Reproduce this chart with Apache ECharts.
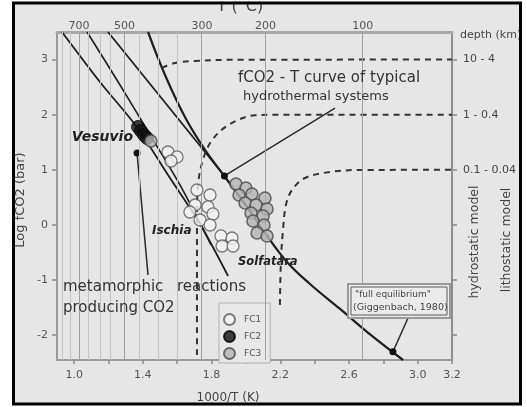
<!DOCTYPE html>
<html><head><meta charset="utf-8">
<script src="https://cdn.jsdelivr.net/npm/echarts@6/dist/echarts.min.js"></script>
<style>html,body{margin:0;padding:0;background:#fff}#c{width:527px;height:407px}</style>
</head><body><div id="c"></div>
<script>
// ---- axes / ticks ----
const xTickValues = [1.0,1.2,1.4,1.6,1.8,2.0,2.2,2.4,2.6,2.8,3.0,3.2];
const xTickLabels = [1.0,1.4,1.8,2.2,2.6,3.0,3.2];
const yTickLabels = [-2,-1,0,1,2,3];
const topTempLabels = [700,500,300,200,100];      // T (°C) on top axis
const gridTempsMajor = [700,500,300,200,100];
const gridTempsMinor = [800,750,650,600,550,450,400,350];

// ---- metamorphic reaction lines (1000/T, log fCO2) ----
const reactionA = [[0.929,3.5],[1.150,2.593],[1.360,1.795],[1.558,0.852],[1.733,0.017],[1.896,-0.926]];
const reactionB = [[1.075,3.5],[1.267,2.539],[1.442,1.632],[1.616,0.725],[1.797,-0.364]];
const reactionC = [[1.197,3.5],[1.861,0.942]];
// ---- fCO2-T curve of hydrothermal systems ("full equilibrium", Giggenbach 1980) ----
const fullEquilibrium = [[1.430,3.5],[1.529,2.72],[1.645,1.958],[1.762,1.360],[1.878,0.870],[1.995,0.380],
  [2.111,-0.146],[2.239,-0.672],[2.373,-1.071],[2.548,-1.524],[2.734,-2.014],[2.915,-2.45]];
// ---- depth curves (dashed) ----
const depth10 = [[1.51,2.85],[1.587,2.938],[1.704,2.974],[1.907,2.995],[3.2,3.0]];
const depth1 = [[1.715,-2.36],[1.715,0.09],[1.721,0.72],[1.750,1.18],[1.803,1.54],[1.907,1.83],[2.053,1.99],[2.198,2.0],[3.2,2.0]];
const depth01 = [[2.198,-1.45],[2.204,-0.636],[2.216,-0.092],[2.233,0.362],[2.268,0.634],[2.344,0.852],[2.490,0.961],[2.664,0.997],[3.2,1.0]];
const depthTexts = ['10 - 4','1 - 0.4','0.1 - 0.04'];

// ---- arrows (from label to target) ----
const arrowMeta = [[1.430,-0.908],[1.366,1.305]];
const arrowHydro = [[2.519,2.121],[1.875,0.89]];
const arrowEq = [[2.944,-1.688],[2.856,-2.30]];

// ---- samples ----
const fc1 = [[1.546,1.323],[1.599,1.233],[1.564,1.160],
  [1.715,0.634],[1.791,0.543],[1.704,0.362],[1.779,0.326],[1.808,0.199],[1.733,0.090],[1.791,-0.001],
  [1.855,-0.200],[1.919,-0.237],[1.861,-0.382],[1.925,-0.382],[1.674,0.235]];
const fc2 = [[1.372,1.777],[1.389,1.704],[1.407,1.632],[1.424,1.577]];
const fc3 = [[1.447,1.523],
  [1.942,0.743],[2.000,0.670],[1.960,0.543],[2.035,0.561],[2.111,0.489],[1.995,0.398],[2.059,0.362],
  [2.123,0.289],[2.030,0.217],[2.100,0.162],[2.041,0.072],[2.105,-0.001],[2.065,-0.146],[2.123,-0.200]];

const FONT = 'DejaVu Sans';
const tK = T => 1000/(T+273.15);

function solid(name, data, w, smooth){
  return {type:'line', name, data, smooth: smooth||0, showSymbol:false, silent:true, z:3,
    lineStyle:{color:'#1e1e1e', width:w}};
}
function dashed(name, data, label){
  return {type:'line', name, data, smooth:0.35, showSymbol:false, silent:true, z:3,
    lineStyle:{color:'#333', width:2, type:[6,5]},
    endLabel:{show:true, formatter:label, distance:11, color:'#444', fontSize:11, fontFamily:FONT}};
}
function arrow(name, data){
  return {type:'line', name, silent:true, z:4, showSymbol:true, symbol:'circle',
    data:[{value:data[0], symbolSize:0},{value:data[1], symbolSize:7}],
    itemStyle:{color:'#111'}, lineStyle:{color:'#2a2a2a', width:1.5}};
}
function txt(x,y,text,size,opts){
  opts = opts||{};
  return {type:'text', x, y, z:50, silent:true, rotation: opts.rot||0,
    style:{text, fill: opts.color||'#333', fontSize:size, fontFamily:FONT,
      fontWeight: opts.bold?'bold':'normal', fontStyle: opts.italic?'italic':'normal',
      align: opts.align||'left', verticalAlign:'middle'}};
}

const chart = echarts.init(document.getElementById('c'), null, {renderer:'canvas'});
chart.setOption({
  animation:false,
  backgroundColor:'#ffffff',
  textStyle:{fontFamily:FONT},
  grid:{left:57, right:75, top:32, bottom:47, containLabel:false},
  xAxis:[
    {type:'value', min:0.9, max:3.2, position:'bottom',
     axisLine:{show:true, onZero:false, lineStyle:{color:'#9a9a9a', width:2}},
     axisTick:{show:true, customValues:xTickValues, length:4, lineStyle:{color:'#8a8a8a', width:1.5}},
     axisLabel:{customValues:xTickLabels, formatter:v=>Number(v).toFixed(1), fontSize:11, color:'#555', margin:10, fontFamily:FONT},
     splitLine:{show:false}},
    {type:'value', min:0.9, max:3.2, position:'top',
     axisLine:{show:true, onZero:false, lineStyle:{color:'#a8a8a8', width:3}},
     axisTick:{show:false},
     axisLabel:{customValues:topTempLabels.map(tK), formatter:v=>String(Math.round(1000/v-273.15)), fontSize:11, color:'#555', margin:0, fontFamily:FONT},
     splitLine:{show:false}}
  ],
  yAxis:[
    {type:'value', min:-2.45, max:3.5, position:'left',
     axisLine:{show:true, onZero:false, lineStyle:{color:'#9a9a9a', width:2}},
     axisTick:{show:true, customValues:yTickLabels, length:5, lineStyle:{color:'#8a8a8a', width:1.5}},
     axisLabel:{customValues:yTickLabels, fontSize:11, color:'#555', margin:9, fontFamily:FONT},
     splitLine:{show:false}},
    {type:'value', min:-2.45, max:3.5, position:'right',
     axisLine:{show:true, onZero:false, lineStyle:{color:'#8e8e8e', width:2}},
     axisTick:{show:true, customValues:yTickLabels, length:5, lineStyle:{color:'#8a8a8a', width:1.5}},
     axisLabel:{show:false}, splitLine:{show:false}}
  ],
  legend:{data:['FC1','FC2','FC3'], orient:'vertical', left:219, top:303, itemWidth:11, itemHeight:11, itemGap:4,
    padding:[10,9,3,4], borderColor:'#b0b0b0', borderWidth:1, backgroundColor:'#e8e8e8', selectedMode:false,
    textStyle:{fontSize:9, color:'#555', fontFamily:FONT, padding:[0,0,0,4]}},
  series:[
    {type:'line', name:'grid', data:[], silent:true, z:1,
     markLine:{silent:true, symbol:['none','none'], label:{show:false}, animation:false,
       data:[...gridTempsMinor.map(T=>({xAxis:tK(T), lineStyle:{color:'#c3c3c3', width:1, type:'solid'}})),
             ...gridTempsMajor.map(T=>({xAxis:tK(T), lineStyle:{color:'#a0a0a0', width:1, type:'solid'}}))]}},
    solid('reactionA', reactionA, 1.8, 0.3),
    solid('reactionB', reactionB, 1.6, 0.3),
    solid('reactionC', reactionC, 1.8, 0),
    solid('fullEquilibrium', fullEquilibrium, 2.2, 0.4),
    dashed('depth10', depth10, depthTexts[0]),
    dashed('depth1', depth1, depthTexts[1]),
    dashed('depth01', depth01, depthTexts[2]),
    arrow('arrowMeta', arrowMeta),
    arrow('arrowHydro', arrowHydro),
    arrow('arrowEq', arrowEq),
    {type:'scatter', name:'FC1', data:fc1, symbolSize:12, z:6, silent:true,
     itemStyle:{color:'#f3f3f3', borderColor:'#5c5c5c', borderWidth:1.3}},
    {type:'scatter', name:'FC2', data:fc2, symbolSize:13, z:6, silent:true,
     itemStyle:{color:'#111', borderColor:'#000', borderWidth:1}},
    {type:'scatter', name:'FC3', data:fc3, symbolSize:12, z:6, silent:true,
     itemStyle:{color:'#b4b4b4', borderColor:'#4a4a4a', borderWidth:1.6}}
  ],
  graphic:[
    {type:'rect', z:-1, silent:true, shape:{x:13.5,y:3,width:507,height:401}, style:{fill:'#e6e6e6'}},
    txt(240,7,'T (°C)',16,{align:'center', color:'#444'}),
    txt(238,78,'fCO2 - T curve of typical',15),
    txt(243,97,'hydrothermal systems',13),
    txt(63,287,'metamorphic',15),
    txt(177,287,'reactions',15),
    txt(63,308,'producing CO2',15),
    txt(133,137,'Vesuvio',14,{bold:true, italic:true, align:'right', color:'#222'}),
    txt(152,231,'Ischia',12,{bold:true, italic:true, color:'#222'}),
    txt(238,262,'Solfatara',11.5,{bold:true, italic:true, color:'#222'}),
    {type:'rect', z:40, silent:true, shape:{x:348,y:284,width:102,height:34}, style:{fill:'#ebebeb', stroke:'#999', lineWidth:2}},
    {type:'rect', z:41, silent:true, shape:{x:351,y:287,width:96,height:28}, style:{fill:'transparent', stroke:'#5a5a5a', lineWidth:1}},
    txt(355,295,'"full equilibrium"',9,{color:'#444'}),
    txt(353,308,'(Giggenbach, 1980)',9.5,{color:'#444'}),
    txt(460,35,'depth (km)',11,{color:'#444'}),
    txt(475,242,'hydrostatic model',12.5,{rot:Math.PI/2, align:'center', color:'#444'}),
    txt(507,240,'lithostatic model',12.5,{rot:Math.PI/2, align:'center', color:'#444'}),
    txt(228,398,'1000/T (K)',12,{align:'center', color:'#444'}),
    txt(21,200,'Log fCO2 (bar)',13,{rot:Math.PI/2, align:'center', color:'#444'}),
    {type:'rect', z:100, silent:true, shape:{x:0,y:0,width:527,height:1.5}, style:{fill:'#fff'}},
    {type:'rect', z:101, silent:true, shape:{x:13.5,y:3,width:507,height:401}, style:{fill:'transparent', stroke:'#000', lineWidth:3}}
  ]
});
</script></body></html>
